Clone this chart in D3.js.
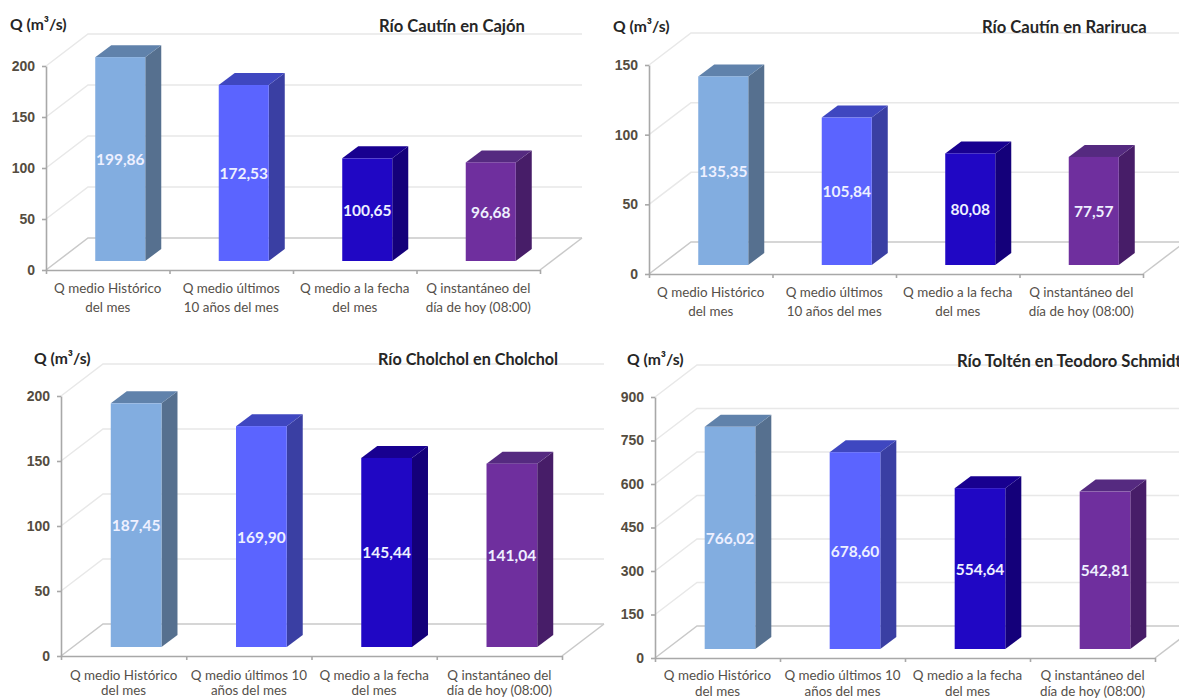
<!DOCTYPE html>
<html lang="es">
<head>
<meta charset="utf-8">
<script src="https://cdn.jsdelivr.net/npm/d3@7"></script>
<style>
  html, body { margin: 0; padding: 0; background: #fff; overflow: hidden; }
  svg { display: block; font-family: Lato, "Open Sans", sans-serif; }
  .domain, .tick line { stroke: #a8a8a8; stroke-width: 1.6; }
  .tick text { fill: #544c40; font-size: 14px; font-weight: 700; }
</style>
</head>
<body>
<svg id="chart" width="1179" height="698"></svg>
<script>
// Caudales por estación
const stations = ["Río Cautín en Cajón", "Río Cautín en Rariruca", "Río Cholchol en Cholchol", "Río Toltén en Teodoro Schmidt"];
const seriesKeys = ["historico", "ultimos10", "fecha", "instantaneo"];
const caudalCajon = [199.86, 172.53, 100.65, 96.68];
const caudalRariruca = [135.35, 105.84, 80.08, 77.57];
const caudalCholchol = [187.45, 169.90, 145.44, 141.04];
const caudalTolten = [766.02, 678.60, 554.64, 542.81];
const ticksCajon = [0, 50, 100, 150, 200];
const ticksRariruca = [0, 50, 100, 150];
const ticksCholchol = [0, 50, 100, 150, 200];
const ticksTolten = [0, 150, 300, 450, 600, 750, 900];
const labelsTop = [["Q medio Histórico", "del mes"], ["Q medio últimos", "10 años del mes"], ["Q medio a la fecha", "del mes"], ["Q instantáneo del", "día de hoy (08:00)"]];
const labelsBottom = [["Q medio Histórico", "del mes"], ["Q medio últimos 10", "años del mes"], ["Q medio a la fecha", "del mes"], ["Q instantáneo del", "día de hoy (08:00)"]];
const yAxisTitle = "Q (m³/s)";

// Colores de cada barra: cara frontal, tapa y costado
const frontColors = ["#82ade0", "#5b64ff", "#2007c4", "#6f2f9e"];
const topColors = ["#6082ab", "#3f47c0", "#180090", "#552a80"];
const sideColors = ["#56708f", "#3a3fa3", "#14007a", "#471d68"];

// Ubicación de los cuatro paneles
const panels = [
  { values: caudalCajon, ticks: ticksCajon, labels: labelsTop, x0: 46, x1: 540, y0: 270, y1: 66, titleX: 379, titleY: 32, titleSize: 16.6, unitX: 10, unitY: 30, labelY: 293, labelGap: 18.5 },
  { values: caudalRariruca, ticks: ticksRariruca, labels: labelsTop, x0: 649, x1: 1143, y0: 274, y1: 65, titleX: 982, titleY: 33, titleSize: 16.6, unitX: 613, unitY: 32, labelY: 297, labelGap: 18.5 },
  { values: caudalCholchol, ticks: ticksCholchol, labels: labelsBottom, x0: 61, x1: 562, y0: 656, y1: 396, titleX: 378, titleY: 365, titleSize: 16.2, unitX: 34, unitY: 364, labelY: 679.5, labelGap: 15.5 },
  { values: caudalTolten, ticks: ticksTolten, labels: labelsBottom, x0: 655, x1: 1155, y0: 658, y1: 397, titleX: 957, titleY: 367, titleSize: 16.6, unitX: 627, unitY: 365, labelY: 680, labelGap: 15.5 }
];

// Desplazamientos de la perspectiva
const wallDx = 42, wallDy = -32;
const barLift = -9, barShift = 12.5, barDx = 16, barDy = -12;

const comma = d3.formatLocale({ decimal: ",", thousands: ".", grouping: [3], currency: ["", ""] }).format(".2f");
const svg = d3.select("#chart");

panels.forEach((p, idx) => {
  const g = svg.append("g");
  const maxTick = d3.max(p.ticks);
  const y = d3.scaleLinear().domain([0, maxTick]).range([p.y0, p.y1]);
  const x = d3.scaleBand().domain(seriesKeys).range([p.x0, p.x1]).paddingInner(0.595).paddingOuter(0.2975);
  const xEdges = d3.scaleLinear().domain([0, seriesKeys.length]).range([p.x0, p.x1]);

  // Pared y piso del gráfico
  const wall = d3.line();
  g.selectAll("path.grid").data(p.ticks).join("path")
    .attr("class", "grid")
    .attr("fill", "none")
    .attr("stroke", t => t === 0 ? "#c9c9c9" : "#e8e8e8")
    .attr("stroke-width", 1.5)
    .attr("d", t => wall([[p.x0, y(t)], [p.x0 + wallDx, y(t) + wallDy], [p.x1 + wallDx, y(t) + wallDy]]));
  g.append("path")
    .attr("fill", "none").attr("stroke", "#c9c9c9").attr("stroke-width", 1.5)
    .attr("d", wall([[p.x1, y(0)], [p.x1 + wallDx, y(0) + wallDy]]));

  // Ejes
  g.append("g").attr("transform", `translate(${p.x0},0)`)
    .call(d3.axisLeft(y).tickValues(p.ticks).tickSize(4).tickSizeOuter(0).tickPadding(7).tickFormat(d3.format("d")));
  g.append("g").attr("transform", `translate(0,${p.y0})`)
    .call(d3.axisBottom(xEdges).tickValues(d3.range(seriesKeys.length + 1)).tickSize(4).tickSizeOuter(0).tickFormat(""));

  // Barras con volumen
  const bars = g.selectAll("g.bar").data(p.values).join("g").attr("class", "bar");
  const left = i => x(seriesKeys[i]) + barShift;
  const right = i => left(i) + x.bandwidth();
  const top = v => y(v) + barLift;
  const base = y(0) + barLift;

  bars.append("path").attr("fill", (v, i) => sideColors[i])
    .attr("d", (v, i) => wall([[right(i), top(v)], [right(i) + barDx, top(v) + barDy], [right(i) + barDx, base + barDy], [right(i), base]]) + "Z");
  bars.append("path").attr("fill", (v, i) => topColors[i])
    .attr("d", (v, i) => wall([[left(i), top(v)], [left(i) + barDx, top(v) + barDy], [right(i) + barDx, top(v) + barDy], [right(i), top(v)]]) + "Z");
  bars.append("rect").attr("fill", (v, i) => frontColors[i])
    .attr("x", (v, i) => left(i)).attr("y", v => top(v))
    .attr("width", x.bandwidth()).attr("height", v => base - top(v));
  bars.append("text")
    .attr("x", (v, i) => left(i) + x.bandwidth() / 2)
    .attr("y", v => (top(v) + base) / 2 + 6)
    .attr("text-anchor", "middle")
    .attr("fill", "#eef0ff").attr("font-size", 15.5).attr("font-weight", 700)
    .text(v => comma(v));

  // Categorías en dos líneas
  const cat = g.selectAll("text.cat").data(p.labels).join("text")
    .attr("class", "cat").attr("text-anchor", "middle")
    .attr("fill", "#55504a").attr("font-size", 13.4);
  cat.selectAll("tspan").data((d, i) => d.map(line => ({ line, i }))).join("tspan")
    .attr("x", d => x(seriesKeys[d.i]) + x.bandwidth() / 2)
    .attr("y", (d, j) => p.labelY + j * p.labelGap)
    .text(d => d.line);

  // Títulos
  g.append("text").attr("x", p.titleX).attr("y", p.titleY)
    .attr("fill", "#262626").attr("font-size", p.titleSize).attr("font-weight", 700).text(stations[idx]);
  g.append("text").attr("x", p.unitX).attr("y", p.unitY)
    .attr("fill", "#262626").attr("font-size", 15.7).attr("font-weight", 700).text(yAxisTitle);
});
</script>
</body>
</html>
